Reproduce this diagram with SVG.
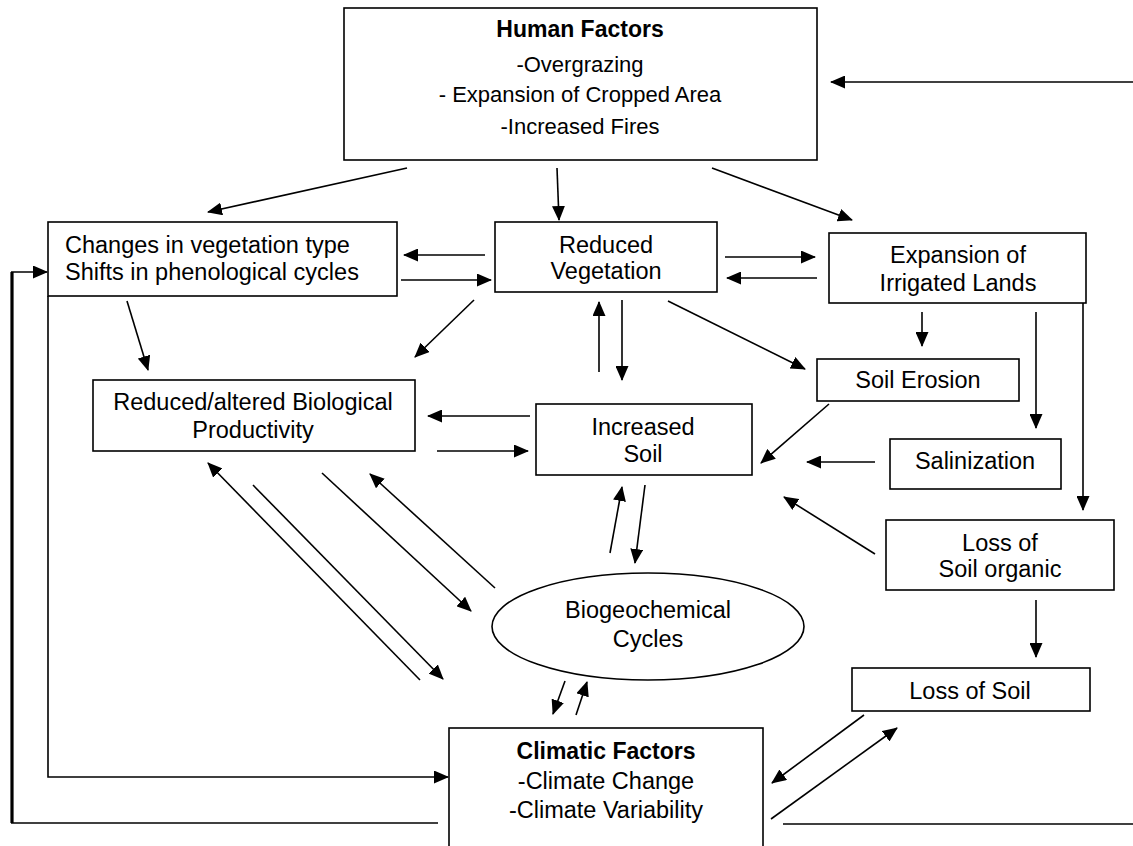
<svg xmlns="http://www.w3.org/2000/svg" width="1133" height="846" viewBox="0 0 1133 846">
<defs>
<marker id="ah" viewBox="0 0 15 13" refX="14" refY="6.5" markerWidth="15" markerHeight="13" markerUnits="userSpaceOnUse" orient="auto">
<path d="M0,0 L15,6.5 L0,13 Z" fill="#000"/>
</marker>
<style>
.box{fill:#fff;stroke:#000;stroke-width:1.6}
.t{font-family:"Liberation Sans",Arial,sans-serif;font-size:23.5px;fill:#000;text-anchor:middle}
.h{font-size:22px}
.b{font-weight:bold;font-size:23px}
.l{text-anchor:start}
.c{fill:none;stroke:#000;stroke-width:1.6}
.a{marker-end:url(#ah)}
</style>
</defs>
<rect width="1133" height="846" fill="#fff"/>

<g id="connectors">
<path class="c" d="M12,823 V272" style="stroke-width:3.2"/>
<path class="c a" d="M11,272 H47"/>
<path class="c" d="M11,823 H438"/>
<path class="c" d="M783,824 H1133"/>
<path class="c a" d="M1133,82 H831"/>
<path class="c a" d="M48,296 V777 H448"/>
<path class="c a" d="M407,168 L208,212"/>
<path class="c a" d="M557,168 L559,220"/>
<path class="c a" d="M712,168 L852,220"/>
<path class="c a" d="M485,255 H404"/>
<path class="c a" d="M401,280 H491"/>
<path class="c a" d="M725,257 H815"/>
<path class="c a" d="M817,278 H727"/>
<path class="c a" d="M127,301 L148,370"/>
<path class="c a" d="M474,300 L415,357"/>
<path class="c a" d="M599,372 V302"/>
<path class="c a" d="M622,300 V380"/>
<path class="c a" d="M668,301 L805,369"/>
<path class="c a" d="M922,312 V346"/>
<path class="c a" d="M1036,312 V428"/>
<path class="c a" d="M1083,300 V510"/>
<path class="c a" d="M829,404 L761,463"/>
<path class="c a" d="M875,462 H807"/>
<path class="c a" d="M875,554 L784,497"/>
<path class="c a" d="M1036,600 V657"/>
<path class="c a" d="M530,416 H428"/>
<path class="c a" d="M437,451 H528"/>
<path class="c a" d="M420,680 L208,463"/>
<path class="c a" d="M253,485 L443,679"/>
<path class="c a" d="M322,473 L471,611"/>
<path class="c a" d="M495,588 L370,474"/>
<path class="c a" d="M610,553 L622,487"/>
<path class="c a" d="M645,485 L635,563"/>
<path class="c a" d="M565,681 L553,714"/>
<path class="c a" d="M576,715 L587,682"/>
<path class="c a" d="M864,715 L772,783"/>
<path class="c a" d="M771,819 L897,728"/>
</g>

<g id="human-factors">
<rect class="box" x="344" y="8" width="473" height="152"/>
<text class="t b" x="580" y="37">Human Factors</text>
<text class="t h" x="580" y="72">-Overgrazing</text>
<text class="t h" x="580" y="102">- Expansion of Cropped Area</text>
<text class="t h" x="580" y="134">-Increased Fires</text>
</g>

<g id="changes-vegetation">
<rect class="box" x="48" y="222" width="349" height="74"/>
<text class="t l" x="65" y="253">Changes in vegetation type</text>
<text class="t l" x="65" y="280">Shifts in phenological cycles</text>
</g>

<g id="reduced-vegetation">
<rect class="box" x="495" y="222" width="222" height="70"/>
<text class="t" x="606" y="253">Reduced</text>
<text class="t" x="606" y="279">Vegetation</text>
</g>

<g id="irrigated-lands">
<rect class="box" x="829" y="233" width="257" height="70"/>
<text class="t" x="958" y="263">Expansion of</text>
<text class="t" x="958" y="291">Irrigated Lands</text>
</g>

<g id="biological-productivity">
<rect class="box" x="93" y="380" width="322" height="71"/>
<text class="t" x="253" y="410">Reduced/altered Biological</text>
<text class="t" x="253" y="438">Productivity</text>
</g>

<g id="increased-soil">
<rect class="box" x="536" y="404" width="216" height="71"/>
<text class="t" x="643" y="435">Increased</text>
<text class="t" x="643" y="462">Soil</text>
</g>

<g id="soil-erosion">
<rect class="box" x="817" y="359" width="202" height="42"/>
<text class="t" x="918" y="388">Soil Erosion</text>
</g>

<g id="salinization">
<rect class="box" x="890" y="439" width="171" height="50"/>
<text class="t" x="975" y="469">Salinization</text>
</g>

<g id="loss-soil-organic">
<rect class="box" x="886" y="520" width="228" height="70"/>
<text class="t" x="1000" y="551">Loss of</text>
<text class="t" x="1000" y="577">Soil organic</text>
</g>

<g id="loss-of-soil">
<rect class="box" x="852" y="668" width="238" height="43"/>
<text class="t" x="970" y="699">Loss of Soil</text>
</g>

<g id="biogeochemical-cycles">
<ellipse class="box" cx="648" cy="626.5" rx="156" ry="53.5"/>
<text class="t" x="648" y="618">Biogeochemical</text>
<text class="t" x="648" y="647">Cycles</text>
</g>

<g id="climatic-factors">
<rect class="box" x="449" y="728" width="314" height="130"/>
<text class="t b" x="606" y="759">Climatic Factors</text>
<text class="t" x="606" y="789">-Climate Change</text>
<text class="t" x="606" y="818">-Climate Variability</text>
</g>
</svg>
